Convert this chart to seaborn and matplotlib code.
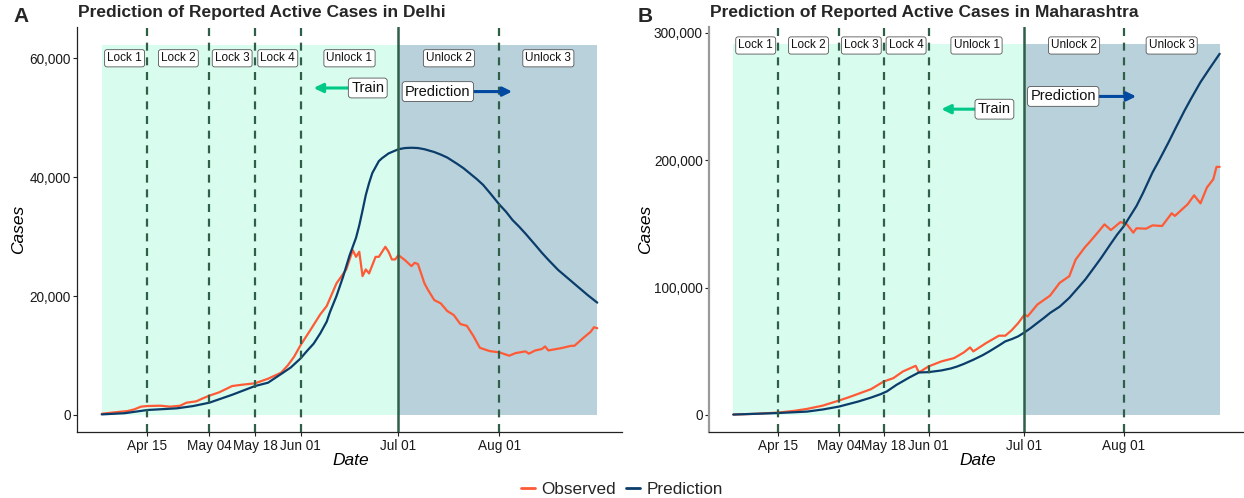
import numpy as np
import pandas as pd
import matplotlib
matplotlib.use("Agg")
import matplotlib.pyplot as plt
import matplotlib.ticker as mticker
import matplotlib.dates as mdates
from matplotlib.lines import Line2D
import seaborn as sns

# ---------------- data ----------------
phase_names = ["Lock 1", "Lock 2", "Lock 3", "Lock 4", "Unlock 1", "Unlock 2", "Unlock 3"]
phase_bounds = ["2020-04-01", "2020-04-15", "2020-05-04", "2020-05-18", "2020-06-01",
                "2020-07-01", "2020-08-01", "2020-08-31"]
split_date = "2020-07-01"
tick_dates = ["2020-04-15", "2020-05-04", "2020-05-18", "2020-06-01", "2020-07-01", "2020-08-01"]

delhi_obs_days = [0, 4, 8, 10, 12, 14, 18, 21, 24, 26, 29, 31, 33, 36, 40, 43, 47, 51, 55, 57,
                  59, 61, 64, 67, 69, 72, 75, 77, 78, 79, 80, 81, 82, 84, 85, 87, 88, 89, 90, 91,
                  93, 95, 96, 97, 99, 100, 102, 104, 106, 108, 110, 112, 114, 116, 119, 122, 125,
                  127, 130, 131, 133, 135, 136, 137, 141, 144, 145, 148, 150, 151, 152]
delhi_obs = [200, 450, 670, 950, 1400, 1510, 1560, 1400, 1560, 2070, 2300, 2800, 3250, 3810,
             4870, 5090, 5330, 6100, 7110, 8300, 9800, 11760, 14290, 16900, 18320, 22130, 24480,
             27730, 26600, 27450, 23360, 24480, 23810, 26600, 26600, 28290, 27450, 26160, 26160,
             26890, 26050, 25040, 25600, 25380, 22130, 21120, 19330, 18770, 17480, 16810, 15300,
             15000, 13300, 11300, 10750, 10530, 9970, 10420, 10700, 10310, 10860, 11090, 11530,
             10860, 11250, 11640, 11640, 13090, 14000, 14760, 14600]

delhi_pred_days = [0, 7, 14, 23, 28, 33, 40, 47, 51, 55, 58, 61, 63, 65, 67, 69, 70, 72, 74, 75,
                   76, 78, 79, 80, 81, 82, 83, 85, 86, 88, 91, 93, 95, 97, 99, 102, 104, 106, 109,
                   111, 113, 115, 117, 119, 122, 124, 126, 128, 130, 133, 135, 137, 140, 143, 146,
                   149, 152]
delhi_pred = [100, 300, 840, 1120, 1500, 2070, 3400, 4870, 5430, 6890, 8000, 9520, 10800, 12000,
              13700, 15690, 17300, 20000, 23200, 25000, 26800, 29800, 31900, 34400, 37000, 39000,
              40700, 42700, 43200, 44000, 44700, 44900, 44950, 44900, 44700, 44230, 43800, 43300,
              42250, 41500, 40600, 39700, 38700, 37400, 35380, 34200, 32800, 31700, 30500, 28600,
              27300, 26100, 24400, 23000, 21600, 20200, 18900]

mh_obs_days = [0, 7, 14, 19, 23, 28, 33, 36, 39, 43, 47, 50, 53, 57, 58, 61, 65, 69, 72, 74, 75,
               79, 83, 85, 87, 89, 91, 92, 95, 99, 102, 105, 107, 110, 111, 114, 116, 118, 121, 123,
               125, 126, 129, 131, 134, 137, 138, 142, 144, 146, 148, 150, 151, 152]
mh_obs = [300, 900, 1840, 3200, 4720, 7350, 11290, 13800, 16530, 20210, 26240, 28870, 34120,
          38580, 33330, 38060, 42000, 44620, 49000, 53020, 49870, 56430, 62200, 62200, 66500,
          72000, 78740, 77430, 86610, 93700, 103700, 108900, 122000, 132000, 134700, 143500,
          149600, 145100, 151400, 149600, 143100, 146500, 146200, 148800, 148300, 158300, 156200,
          165400, 172400, 166100, 178500, 185000, 194700, 194700]

mh_pred_days = [0, 14, 18, 23, 28, 33, 39, 43, 46, 48, 51, 53, 55, 58, 61, 65, 68, 70, 72, 75, 78,
                80, 83, 85, 87, 89, 91, 93, 95, 97, 99, 102, 105, 108, 110, 113, 115, 118, 120, 122,
                124, 126, 128, 131, 133, 136, 138, 141, 143, 146, 149, 152]
mh_pred = [300, 1500, 2000, 2620, 4300, 6560, 10500, 13600, 16270, 18500, 23620, 26500, 29400,
           33330, 33600, 34910, 36500, 38060, 40000, 43310, 47000, 49870, 54500, 57740, 59500,
           61650, 64800, 68300, 72200, 76000, 80080, 85000, 91900, 100500, 106300, 116500, 123400,
           134500, 141700, 148000, 156000, 164000, 174000, 190300, 199500, 213900, 224000, 238800,
           248000, 261200, 272500, 283500]

titles = ["Prediction of Reported Active Cases in Delhi",
          "Prediction of Reported Active Cases in Maharashtra"]
panel_letters = ["A", "B"]
y_ticks = [[0, 20000, 40000, 60000], [0, 100000, 200000, 300000]]
y_limits = [(-2860, 65260), (-13390, 304500)]
shade_top = [62200, 291000]
phase_label_y = [60000, 290000]
train_label_y = [55000, 240000]
pred_label_y = [54400, 250000]

# ---------------- style ----------------
sns.set_theme(style="ticks")
plt.rcParams["font.family"] = ["Liberation Sans", "DejaVu Sans"]

OBS_C = "#FF5A36"
PRED_C = "#0B3D6B"
TRAIN_BG = "#D8FCEE"
PRED_BG = "#B9D1DB"
VLINE_C = "#2F5F48"
TRAIN_ARROW = "#00C987"
PRED_ARROW = "#0048A0"

start = pd.Timestamp(phase_bounds[0])


def make_df(obs_days, obs, pred_days, pred):
    a = pd.DataFrame({"date": start + pd.to_timedelta(obs_days, unit="D"),
                      "cases": obs, "series": "Observed"})
    b = pd.DataFrame({"date": start + pd.to_timedelta(pred_days, unit="D"),
                      "cases": pred, "series": "Prediction"})
    return pd.concat([a, b], ignore_index=True)


dfs = [make_df(delhi_obs_days, delhi_obs, delhi_pred_days, delhi_pred),
       make_df(mh_obs_days, mh_obs, mh_pred_days, mh_pred)]

W, H = 1244, 498
fig = plt.figure(figsize=(W / 100, H / 100), dpi=100)
axes = [fig.add_axes([77 / W, 66 / H, 545 / W, 405 / H]),
        fig.add_axes([709 / W, 66 / H, 535 / W, 405 / H])]

bounds = [pd.Timestamp(b) for b in phase_bounds]
split = pd.Timestamp(split_date)
end = bounds[-1]
pad = pd.Timedelta(days=7.6)

for i, ax in enumerate(axes):
    ax.set_facecolor("white")
    # background regions
    ax.fill_between([bounds[0], split], 0, shade_top[i], color=TRAIN_BG, lw=0, zorder=0)
    ax.fill_between([split, end], 0, shade_top[i], color=PRED_BG, lw=0, zorder=0)

    # lines
    sns.lineplot(data=dfs[i], x="date", y="cases", hue="series",
                 hue_order=["Observed", "Prediction"],
                 palette={"Observed": OBS_C, "Prediction": PRED_C},
                 linewidth=1.6, legend=False, ax=ax, zorder=3)

    # vertical phase lines
    for b in bounds[1:-1]:
        if b == split:
            ax.axvline(b, color=VLINE_C, lw=1.8, zorder=4)
        else:
            ax.axvline(b, color=VLINE_C, lw=1.6, ls=(0, (3.6, 3.0)), zorder=4)

    # phase labels
    for j, name in enumerate(phase_names):
        mid = bounds[j] + (bounds[j + 1] - bounds[j]) / 2
        ax.text(mid, phase_label_y[i], name, ha="center", va="center", fontsize=8.5,
                color="#111111", zorder=6,
                bbox=dict(boxstyle="round,pad=0.22,rounding_size=0.2", fc="white",
                          ec="#555555", lw=0.6))

    # Train / Prediction annotations
    tr_center = start + pd.Timedelta(days=81.6)
    tr_tail = start + pd.Timedelta(days=75.8)
    tr_head = start + pd.Timedelta(days=65.0)
    ax.annotate("", xy=(tr_head, train_label_y[i]), xytext=(tr_tail, train_label_y[i]),
                arrowprops=dict(arrowstyle="-|>,head_length=0.45,head_width=0.22",
                                color=TRAIN_ARROW, lw=2.2, shrinkA=0, shrinkB=0), zorder=6)
    ax.text(tr_center, train_label_y[i], "Train", ha="center", va="center", fontsize=10.5,
            color="#111111", zorder=7,
            bbox=dict(boxstyle="round,pad=0.2,rounding_size=0.2", fc="white", ec="#555555", lw=0.6))

    pr_center = start + pd.Timedelta(days=103.1)
    pr_tail = start + pd.Timedelta(days=113.8)
    pr_head = start + pd.Timedelta(days=125.9)
    ax.annotate("", xy=(pr_head, pred_label_y[i]), xytext=(pr_tail, pred_label_y[i]),
                arrowprops=dict(arrowstyle="-|>,head_length=0.45,head_width=0.22",
                                color=PRED_ARROW, lw=2.2, shrinkA=0, shrinkB=0), zorder=6)
    ax.text(pr_center, pred_label_y[i], "Prediction", ha="center", va="center", fontsize=10.5,
            color="#111111", zorder=7,
            bbox=dict(boxstyle="round,pad=0.2,rounding_size=0.2", fc="white", ec="#555555", lw=0.6))

    # axes
    ax.set_xlim(bounds[0] - pad, end + pad)
    ax.set_ylim(*y_limits[i])
    ax.set_xticks([pd.Timestamp(t) for t in tick_dates])
    ax.xaxis.set_major_formatter(mdates.DateFormatter("%b %d"))
    ax.set_yticks(y_ticks[i])
    ax.yaxis.set_major_formatter(mticker.FuncFormatter(lambda v, p: f"{int(v):,}"))
    ax.tick_params(axis="both", labelsize=9.8, length=3, width=0.8, pad=2,
                   colors="#222222", labelcolor="#1a1a1a")
    ax.tick_params(axis="y", pad=1.5)
    for s in ["top", "right"]:
        ax.spines[s].set_visible(False)
    ax.spines["bottom"].set_color("#222222")
    ax.spines["bottom"].set_linewidth(0.9)
    ax.spines["left"].set_color("#222222" if i == 0 else "#9a9a9a")
    ax.spines["left"].set_linewidth(0.9 if i == 0 else 1.6)

    ax.set_xlabel("Date", fontsize=12.5, style="italic", color="black")
    ax.xaxis.set_label_coords(0.503, -0.052)
    ax.set_ylabel("Cases", fontsize=12.5, style="italic", color="black")
    ax.yaxis.set_label_coords(-0.093 if i == 0 else -0.104, 0.5)
    ax.grid(False)

# titles and panel letters
fig.text(78 / W, 1 - 13 / H, titles[0], fontsize=12.5, fontweight="bold", ha="left", va="center")
fig.text(710 / W, 1 - 13 / H, titles[1], fontsize=12.5, fontweight="bold", ha="left", va="center")
fig.text(13 / W, 1 - 17 / H, panel_letters[0], fontsize=15, fontweight="bold", ha="left", va="center")
fig.text(638 / W, 1 - 17 / H, panel_letters[1], fontsize=15, fontweight="bold", ha="left", va="center")

# legend
handles = [Line2D([0], [0], color=OBS_C, lw=2), Line2D([0], [0], color=PRED_C, lw=2)]
fig.legend(handles, ["Observed", "Prediction"], loc="center", bbox_to_anchor=(0.5, 1 - 489 / H),
           ncol=2, frameon=False, fontsize=12.3, handlelength=0.8, handletextpad=0.4,
           columnspacing=0.6)

fig.savefig("out.png", dpi=100, facecolor="white")
